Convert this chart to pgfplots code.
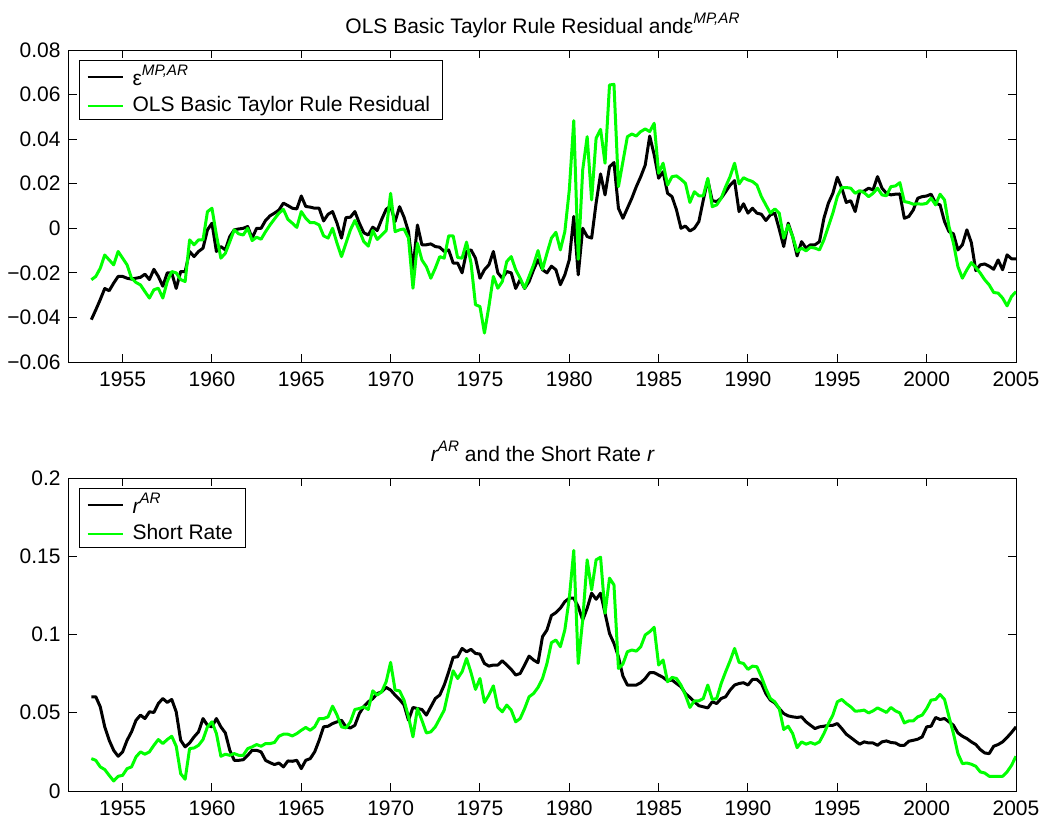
\documentclass[border=0pt]{standalone}
\usepackage{fontspec}
\setmainfont{Liberation Sans}
\usepackage{pgfplots}
\usepackage{pgfplotstable}
\pgfplotsset{compat=1.18}
\definecolor{mgreen}{rgb}{0,1,0}
\newcommand\sups[1]{\raisebox{0.45em}{\fontsize{7.6}{8}\selectfont\itshape #1}}

\pgfplotstableread{
t e g
1953.25 -0.0410 -0.0231
1953.50 -0.0366 -0.0216
1953.75 -0.0320 -0.0179
1954.00 -0.0270 -0.0120
1954.25 -0.0280 -0.0142
1954.50 -0.0246 -0.0164
1954.75 -0.0216 -0.0104
1955.00 -0.0216 -0.0134
1955.25 -0.0224 -0.0164
1955.50 -0.0228 -0.0224
1955.75 -0.0224 -0.0243
1956.00 -0.0220 -0.0254
1956.25 -0.0206 -0.0284
1956.50 -0.0230 -0.0313
1956.75 -0.0184 -0.0276
1957.00 -0.0216 -0.0269
1957.25 -0.0260 -0.0313
1957.50 -0.0200 -0.0239
1957.75 -0.0200 -0.0194
1958.00 -0.0270 -0.0200
1958.25 -0.0194 -0.0230
1958.50 -0.0194 -0.0239
1958.75 -0.0104 -0.0052
1959.00 -0.0127 -0.0074
1959.25 -0.0104 -0.0052
1959.50 -0.0089 -0.0052
1959.75 -0.0007 0.0075
1960.00 0.0023 0.0090
1960.25 -0.0104 -0.0030
1960.50 -0.0082 -0.0134
1960.75 -0.0097 -0.0112
1961.00 -0.0037 -0.0060
1961.25 -0.0007 -0.0007
1961.50 -0.0003 -0.0025
1961.75 0.0000 -0.0030
1962.00 0.0008 0.0000
1962.25 -0.0044 -0.0055
1962.50 0.0000 -0.0040
1962.75 0.0000 -0.0049
1963.00 0.0035 -0.0015
1963.25 0.0056 0.0015
1963.50 0.0068 0.0042
1963.75 0.0082 0.0068
1964.00 0.0113 0.0085
1964.25 0.0102 0.0040
1964.50 0.0090 0.0023
1964.75 0.0087 0.0004
1965.00 0.0145 0.0075
1965.25 0.0098 0.0045
1965.50 0.0095 0.0025
1965.75 0.0090 0.0025
1966.00 0.0090 0.0015
1966.25 0.0033 -0.0034
1966.50 0.0063 -0.0044
1966.75 0.0075 0.0000
1967.00 0.0023 -0.0067
1967.25 -0.0044 -0.0127
1967.50 0.0048 -0.0067
1967.75 0.0050 -0.0007
1968.00 0.0075 0.0035
1968.25 0.0023 -0.0010
1968.50 -0.0020 -0.0060
1968.75 -0.0030 -0.0080
1969.00 0.0005 -0.0010
1969.25 -0.0010 -0.0050
1969.50 0.0040 -0.0030
1969.75 0.0085 -0.0010
1970.00 0.0100 0.0157
1970.25 0.0030 -0.0015
1970.50 0.0097 -0.0007
1970.75 0.0050 -0.0003
1971.00 -0.0015 -0.0044
1971.25 -0.0186 -0.0269
1971.50 0.0015 -0.0067
1971.75 -0.0074 -0.0142
1972.00 -0.0074 -0.0172
1972.25 -0.0070 -0.0224
1972.50 -0.0082 -0.0179
1972.75 -0.0085 -0.0127
1973.00 -0.0104 -0.0134
1973.25 -0.0097 -0.0034
1973.50 -0.0156 -0.0034
1973.75 -0.0156 -0.0131
1974.00 -0.0200 -0.0134
1974.25 -0.0104 -0.0062
1974.50 -0.0097 -0.0156
1974.75 -0.0134 -0.0343
1975.00 -0.0224 -0.0351
1975.25 -0.0186 -0.0470
1975.50 -0.0164 -0.0351
1975.75 -0.0104 -0.0216
1976.00 -0.0200 -0.0269
1976.25 -0.0224 -0.0239
1976.50 -0.0194 -0.0149
1976.75 -0.0200 -0.0127
1977.00 -0.0270 -0.0186
1977.25 -0.0230 -0.0224
1977.50 -0.0270 -0.0269
1977.75 -0.0239 -0.0216
1978.00 -0.0186 -0.0164
1978.25 -0.0141 -0.0100
1978.50 -0.0186 -0.0184
1978.75 -0.0200 -0.0112
1979.00 -0.0170 -0.0044
1979.25 -0.0186 -0.0018
1979.50 -0.0253 -0.0097
1979.75 -0.0209 -0.0015
1980.00 -0.0141 0.0172
1980.25 0.0053 0.0483
1980.50 -0.0209 -0.0139
1980.75 0.0000 0.0262
1981.00 -0.0037 0.0411
1981.25 -0.0044 0.0127
1981.50 0.0113 0.0404
1981.75 0.0244 0.0444
1982.00 0.0150 0.0292
1982.25 0.0276 0.0643
1982.50 0.0295 0.0646
1982.75 0.0090 0.0187
1983.00 0.0045 0.0299
1983.25 0.0090 0.0411
1983.50 0.0135 0.0423
1983.75 0.0187 0.0414
1984.00 0.0232 0.0434
1984.25 0.0284 0.0446
1984.50 0.0414 0.0434
1984.75 0.0330 0.0471
1985.00 0.0225 0.0247
1985.25 0.0254 0.0292
1985.50 0.0157 0.0194
1985.75 0.0142 0.0232
1986.00 0.0082 0.0235
1986.25 0.0000 0.0220
1986.50 0.0010 0.0202
1986.75 -0.0012 0.0116
1987.00 0.0000 0.0164
1987.25 0.0030 0.0146
1987.50 0.0127 0.0146
1987.75 0.0217 0.0224
1988.00 0.0124 0.0097
1988.25 0.0120 0.0105
1988.50 0.0135 0.0135
1988.75 0.0164 0.0187
1989.00 0.0194 0.0232
1989.25 0.0214 0.0292
1989.50 0.0075 0.0199
1989.75 0.0110 0.0227
1990.00 0.0068 0.0217
1990.25 0.0090 0.0210
1990.50 0.0068 0.0194
1990.75 0.0063 0.0142
1991.00 0.0035 0.0105
1991.25 0.0060 0.0068
1991.50 0.0068 0.0087
1991.75 -0.0004 0.0068
1992.00 -0.0082 -0.0044
1992.25 0.0023 0.0015
1992.50 -0.0037 -0.0037
1992.75 -0.0124 -0.0104
1993.00 -0.0060 -0.0089
1993.25 -0.0089 -0.0101
1993.50 -0.0074 -0.0085
1993.75 -0.0074 -0.0089
1994.00 -0.0060 -0.0097
1994.25 0.0045 -0.0052
1994.50 0.0113 0.0008
1994.75 0.0157 0.0068
1995.00 0.0229 0.0142
1995.25 0.0180 0.0183
1995.50 0.0116 0.0183
1995.75 0.0124 0.0180
1996.00 0.0075 0.0157
1996.25 0.0164 0.0169
1996.50 0.0167 0.0160
1996.75 0.0180 0.0142
1997.00 0.0172 0.0157
1997.25 0.0232 0.0180
1997.50 0.0180 0.0150
1997.75 0.0157 0.0146
1998.00 0.0150 0.0187
1998.25 0.0153 0.0190
1998.50 0.0154 0.0205
1998.75 0.0045 0.0120
1999.00 0.0053 0.0116
1999.25 0.0082 0.0108
1999.50 0.0135 0.0110
1999.75 0.0142 0.0108
2000.00 0.0145 0.0112
2000.25 0.0153 0.0135
2000.50 0.0113 0.0105
2000.75 0.0105 0.0153
2001.00 0.0030 0.0127
2001.25 -0.0015 0.0008
2001.50 -0.0025 -0.0067
2001.75 -0.0097 -0.0172
2002.00 -0.0074 -0.0224
2002.25 -0.0007 -0.0186
2002.50 -0.0064 -0.0154
2002.75 -0.0190 -0.0176
2003.00 -0.0164 -0.0201
2003.25 -0.0160 -0.0231
2003.50 -0.0170 -0.0254
2003.75 -0.0184 -0.0288
2004.00 -0.0142 -0.0291
2004.25 -0.0186 -0.0313
2004.50 -0.0119 -0.0348
2004.75 -0.0137 -0.0306
2005.00 -0.0137 -0.0284
}\toptab

\pgfplotstableread{
t r s
1953.25 0.0602 0.0207
1953.50 0.0602 0.0196
1953.75 0.0538 0.0154
1954.00 0.0410 0.0137
1954.25 0.0324 0.0100
1954.50 0.0260 0.0064
1954.75 0.0222 0.0094
1955.00 0.0250 0.0100
1955.25 0.0324 0.0143
1955.50 0.0378 0.0154
1955.75 0.0452 0.0218
1956.00 0.0485 0.0250
1956.25 0.0463 0.0235
1956.50 0.0506 0.0250
1956.75 0.0502 0.0292
1957.00 0.0559 0.0329
1957.25 0.0591 0.0303
1957.50 0.0566 0.0329
1957.75 0.0585 0.0350
1958.00 0.0506 0.0286
1958.25 0.0324 0.0111
1958.50 0.0282 0.0075
1958.75 0.0307 0.0271
1959.00 0.0346 0.0275
1959.25 0.0378 0.0292
1959.50 0.0463 0.0329
1959.75 0.0420 0.0410
1960.00 0.0410 0.0442
1960.25 0.0463 0.0367
1960.50 0.0410 0.0222
1960.75 0.0371 0.0235
1961.00 0.0260 0.0228
1961.25 0.0196 0.0239
1961.50 0.0196 0.0228
1961.75 0.0200 0.0228
1962.00 0.0228 0.0271
1962.25 0.0260 0.0282
1962.50 0.0260 0.0297
1962.75 0.0250 0.0286
1963.00 0.0196 0.0303
1963.25 0.0181 0.0303
1963.50 0.0169 0.0310
1963.75 0.0179 0.0350
1964.00 0.0154 0.0363
1964.25 0.0192 0.0363
1964.50 0.0190 0.0352
1964.75 0.0196 0.0367
1965.00 0.0143 0.0388
1965.25 0.0196 0.0406
1965.50 0.0207 0.0388
1965.75 0.0250 0.0410
1966.00 0.0324 0.0463
1966.25 0.0410 0.0463
1966.50 0.0414 0.0474
1966.75 0.0431 0.0542
1967.00 0.0442 0.0485
1967.25 0.0452 0.0410
1967.50 0.0410 0.0403
1967.75 0.0403 0.0442
1968.00 0.0420 0.0521
1968.25 0.0495 0.0527
1968.50 0.0540 0.0538
1968.75 0.0570 0.0521
1969.00 0.0590 0.0640
1969.25 0.0623 0.0613
1969.50 0.0634 0.0634
1969.75 0.0662 0.0698
1970.00 0.0645 0.0822
1970.25 0.0613 0.0645
1970.50 0.0585 0.0640
1970.75 0.0550 0.0581
1971.00 0.0452 0.0474
1971.25 0.0534 0.0346
1971.50 0.0527 0.0527
1971.75 0.0521 0.0452
1972.00 0.0485 0.0371
1972.25 0.0538 0.0378
1972.50 0.0591 0.0410
1972.75 0.0613 0.0463
1973.00 0.0677 0.0517
1973.25 0.0762 0.0645
1973.50 0.0854 0.0768
1973.75 0.0858 0.0719
1974.00 0.0911 0.0762
1974.25 0.0890 0.0847
1974.50 0.0905 0.0756
1974.75 0.0879 0.0649
1975.00 0.0875 0.0719
1975.25 0.0815 0.0566
1975.50 0.0798 0.0613
1975.75 0.0805 0.0672
1976.00 0.0805 0.0534
1976.25 0.0832 0.0506
1976.50 0.0805 0.0549
1976.75 0.0777 0.0517
1977.00 0.0741 0.0442
1977.25 0.0751 0.0463
1977.50 0.0805 0.0527
1977.75 0.0862 0.0602
1978.00 0.0837 0.0623
1978.25 0.0820 0.0662
1978.50 0.0986 0.0719
1978.75 0.1029 0.0815
1979.00 0.1121 0.0948
1979.25 0.1140 0.0965
1979.50 0.1168 0.0922
1979.75 0.1210 0.1029
1980.00 0.1232 0.1232
1980.25 0.1232 0.1537
1980.50 0.1178 0.0815
1980.75 0.1093 0.1093
1981.00 0.1168 0.1477
1981.25 0.1264 0.1285
1981.50 0.1225 0.1477
1981.75 0.1264 0.1494
1982.00 0.1136 0.1136
1982.25 0.1007 0.1360
1982.50 0.0943 0.1317
1982.75 0.0858 0.0783
1983.00 0.0734 0.0811
1983.25 0.0677 0.0890
1983.50 0.0677 0.0901
1983.75 0.0677 0.0894
1984.00 0.0692 0.0922
1984.25 0.0719 0.0997
1984.50 0.0756 0.1018
1984.75 0.0756 0.1046
1985.00 0.0741 0.0805
1985.25 0.0726 0.0837
1985.50 0.0704 0.0698
1985.75 0.0709 0.0726
1986.00 0.0687 0.0719
1986.25 0.0666 0.0677
1986.50 0.0623 0.0613
1986.75 0.0598 0.0534
1987.00 0.0570 0.0576
1987.25 0.0545 0.0576
1987.50 0.0538 0.0591
1987.75 0.0531 0.0677
1988.00 0.0570 0.0585
1988.25 0.0559 0.0591
1988.50 0.0591 0.0687
1988.75 0.0602 0.0762
1989.00 0.0645 0.0832
1989.25 0.0677 0.0911
1989.50 0.0687 0.0822
1989.75 0.0692 0.0815
1990.00 0.0677 0.0777
1990.25 0.0713 0.0798
1990.50 0.0713 0.0794
1990.75 0.0687 0.0730
1991.00 0.0623 0.0655
1991.25 0.0581 0.0591
1991.50 0.0563 0.0570
1991.75 0.0527 0.0527
1992.00 0.0495 0.0393
1992.25 0.0480 0.0414
1992.50 0.0474 0.0367
1992.75 0.0470 0.0277
1993.00 0.0474 0.0314
1993.25 0.0442 0.0299
1993.50 0.0420 0.0310
1993.75 0.0399 0.0299
1994.00 0.0410 0.0314
1994.25 0.0414 0.0367
1994.50 0.0420 0.0431
1994.75 0.0420 0.0485
1995.00 0.0431 0.0570
1995.25 0.0399 0.0585
1995.50 0.0363 0.0559
1995.75 0.0342 0.0538
1996.00 0.0320 0.0510
1996.25 0.0299 0.0512
1996.50 0.0314 0.0517
1996.75 0.0307 0.0499
1997.00 0.0307 0.0512
1997.25 0.0292 0.0531
1997.50 0.0314 0.0517
1997.75 0.0320 0.0502
1998.00 0.0310 0.0534
1998.25 0.0307 0.0512
1998.50 0.0292 0.0499
1998.75 0.0292 0.0435
1999.00 0.0318 0.0448
1999.25 0.0324 0.0448
1999.50 0.0331 0.0474
1999.75 0.0346 0.0485
2000.00 0.0410 0.0527
2000.25 0.0414 0.0581
2000.50 0.0470 0.0585
2000.75 0.0457 0.0617
2001.00 0.0463 0.0585
2001.25 0.0442 0.0474
2001.50 0.0420 0.0367
2001.75 0.0371 0.0239
2002.00 0.0350 0.0175
2002.25 0.0335 0.0179
2002.50 0.0314 0.0171
2002.75 0.0297 0.0158
2003.00 0.0265 0.0122
2003.25 0.0243 0.0115
2003.50 0.0239 0.0094
2003.75 0.0286 0.0094
2004.00 0.0297 0.0094
2004.25 0.0314 0.0094
2004.50 0.0342 0.0122
2004.75 0.0374 0.0164
2005.00 0.0410 0.0222
}\bottab

\pgfplotsset{
  mystyle/.style={
    scale only axis, width=473.5pt,
    xmin=1952, xmax=2005,
    xtick={1955,1960,1965,1970,1975,1980,1985,1990,1995,2000,2005},
    xticklabels={1955,1960,1965,1970,1975,1980,1985,1990,1995,2000,2005},
    scaled y ticks=false, scaled x ticks=false,
    tick align=inside, major tick length=4pt,
    xtick pos=both, ytick pos=both,
    xticklabel pos=bottom, yticklabel pos=left,
    axis line style={line width=0.5pt},
    every tick/.style={black, line width=0.5pt},
    minor tick num=0,
    title style={at={(0.5,1)}, anchor=base, yshift=2.5pt, inner sep=0pt},
    xticklabel style={yshift=-1pt},
    yticklabel style={xshift=-0.5pt},
    legend cell align=left,
    legend style={anchor=north west, at={(0.0106,0.968)}, draw=black, line width=0.5pt,
      inner xsep=3.5pt, inner ysep=0pt, row sep=-1pt,
      nodes={inner xsep=2.8pt, inner ysep=2.5pt},
      /tikz/every odd column/.append style={column sep=1.7pt}},
    legend image code/.code={\draw[##1, line width=1pt] (1.85pt,0pt) -- (19.35pt,0pt);},
  }
}

\begin{document}
\fontsize{10.5}{12.6}\selectfont
\begin{tikzpicture}
\useasboundingbox (0,0) rectangle (522pt,410.5pt);
\begin{axis}[mystyle,
  at={(34.5pt,229.5pt)}, anchor=south west, height=156pt,
  ymin=-0.06, ymax=0.08,
  ytick={-0.06,-0.04,-0.02,0,0.02,0.04,0.06,0.08},
  yticklabels={−0.06,−0.04,−0.02,0,0.02,0.04,0.06,0.08},
  title={OLS Basic Taylor Rule Residual andε\sups{MP,AR}},
]
\addplot[black, line width=1.5pt, line join=round] table[x=t, y=e] {\toptab};
\addlegendentry{ε\sups{MP,AR}}
\addplot[mgreen, line width=1.5pt, line join=round] table[x=t, y=g] {\toptab};
\addlegendentry{OLS Basic Taylor Rule Residual}
\end{axis}
\begin{axis}[mystyle,
  at={(34.5pt,15pt)}, anchor=south west, height=156.5pt,
  ymin=0, ymax=0.2,
  ytick={0,0.05,0.1,0.15,0.2},
  yticklabels={0,0.05,0.1,0.15,0.2},
  title={\itshape r\sups{AR}\upshape\ and the Short Rate \itshape r},
]
\addplot[black, line width=1.5pt, line join=round] table[x=t, y=r] {\bottab};
\addlegendentry{\itshape r\sups{AR}}
\addplot[mgreen, line width=1.5pt, line join=round] table[x=t, y=s] {\bottab};
\addlegendentry{Short Rate}
\end{axis}
\end{tikzpicture}
\end{document}
